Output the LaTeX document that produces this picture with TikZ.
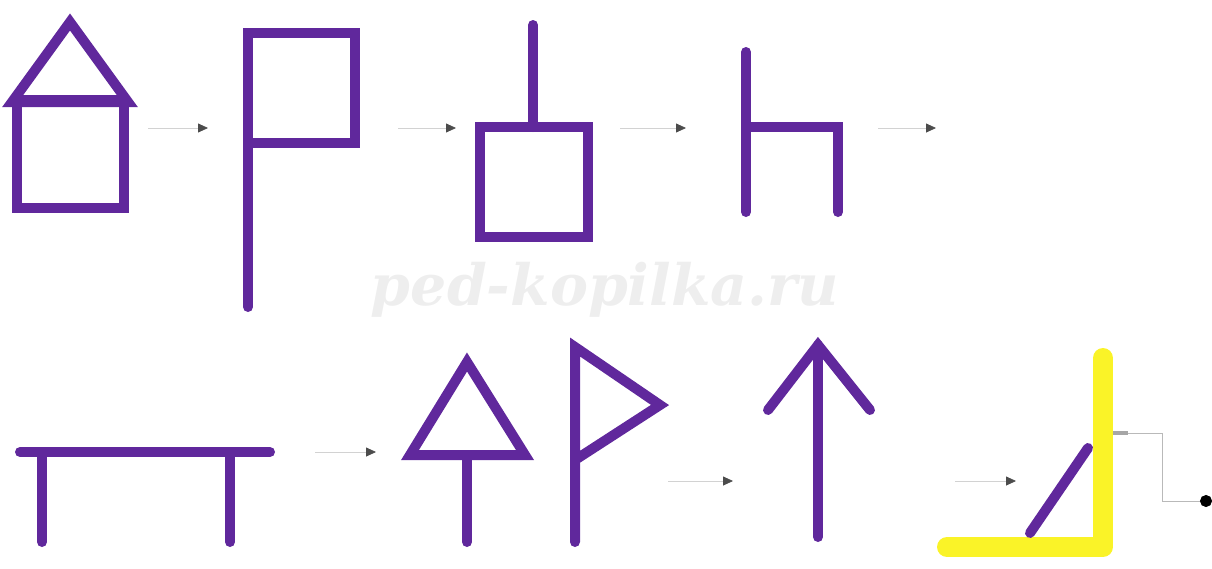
\documentclass[tikz,border=0pt]{standalone}
\usepackage{fontspec}
\newfontfamily\markfont{DejaVu Serif}
\usetikzlibrary{arrows.meta}

\definecolor{stickpurple}{RGB}{96,40,156}
\definecolor{markeryellow}{RGB}{250,243,40}

\begin{document}
\begin{tikzpicture}[
  x=1pt, y=-1pt,
  >=Triangle,  % Arrow tip
  % Stick styles
  stick/.style={
    draw=stickpurple,
    line width=10pt,
    line cap=round,
    line join=miter
  },
  highlight/.style={
    draw=markeryellow,
    line width=20pt,
    line cap=round,
    line join=round
  },
  % Arrows style
  connector/.style={
    draw=gray!35,
    line width=0.8pt,
    -{Triangle[length=10pt,width=9pt,color=black!70]}
  },
  watermark/.style={
    text=gray!13,
    font=\markfont\bfseries\itshape\fontsize{57}{57}\selectfont
  }
]
\useasboundingbox (0,0) rectangle (1212,568);

% -----------------------------------------------
% WATERMARK
% -----------------------------------------------
\node[watermark] (siteMark) at (605,290) {ped-kopilka.ru};

% -----------------------------------------------
% TOP ROW
% -----------------------------------------------
% house
\draw[stick] (17,100) rectangle (124,208);
\draw[stick] (12,102) -- (70,22) -- (128,102) -- cycle;

% flag
\draw[stick] (248,307) -- (248,33) -- (355,33) -- (355,143) -- (248,143);

% stick on a box
\draw[stick] (533,25) -- (533,127);
\draw[stick] (480,127) rectangle (588,237);

% chair
\draw[stick] (746,52) -- (746,212);
\draw[stick] (746,127) -- (838,127) -- (838,212);

% -----------------------------------------------
% BOTTOM ROW
% -----------------------------------------------
% table
\draw[stick] (20,452) -- (270,452);
\draw[stick] (42,452) -- (42,542);
\draw[stick] (230,452) -- (230,542);

% triangle on a pole
\draw[stick] (467,362) -- (525,455) -- (410,455) -- cycle;
\draw[stick] (467,455) -- (467,542);

% pennant
\draw[stick] (575,542) -- (575,347) -- (660,405) -- (575,460);

% arrow up
\draw[stick] (818,537) -- (818,345);
\draw[stick] (768,410) -- (818,345) -- (870,410);

% marked corner
\draw[highlight] (1103,358) -- (1103,547) -- (947,547);
\draw[stick] (1030,533) -- (1088,448);

% -----------------------------------------------
% ARROWS AND CONNECTIONS
% -----------------------------------------------
\coordinate (arrowAs) at (148,128);
\coordinate (arrowAe) at (208,128);
\coordinate (arrowBs) at (398,128);
\coordinate (arrowBe) at (456,128);
\coordinate (arrowCs) at (620,128);
\coordinate (arrowCe) at (686,128);
\coordinate (arrowDs) at (878,128);
\coordinate (arrowDe) at (936,128);
\coordinate (arrowEs) at (315,452);
\coordinate (arrowEe) at (376,452);
\coordinate (arrowFs) at (668,481);
\coordinate (arrowFe) at (733,481);
\coordinate (arrowGs) at (955,481);
\coordinate (arrowGe) at (1016,481);
\coordinate (cornerOut) at (1113,433);
\coordinate (cornerEnd) at (1212,501);

\draw[connector] (arrowAs) -- (arrowAe);
\draw[connector] (arrowBs) -- (arrowBe);
\draw[connector] (arrowCs) -- (arrowCe);
\draw[connector] (arrowDs) -- (arrowDe);
\draw[connector] (arrowEs) -- (arrowEe);
\draw[connector] (arrowFs) -- (arrowFe);
\draw[connector] (arrowGs) -- (arrowGe);

% elbow out of the marked corner
\draw[draw=gray!55, line width=0.8pt,
      {Rectangle[length=15pt,width=4pt,color=gray!70]}-{Circle[length=12pt,color=black]}]
  (cornerOut) -- ++(49,0) |- (cornerEnd);

\end{tikzpicture}
\end{document}
